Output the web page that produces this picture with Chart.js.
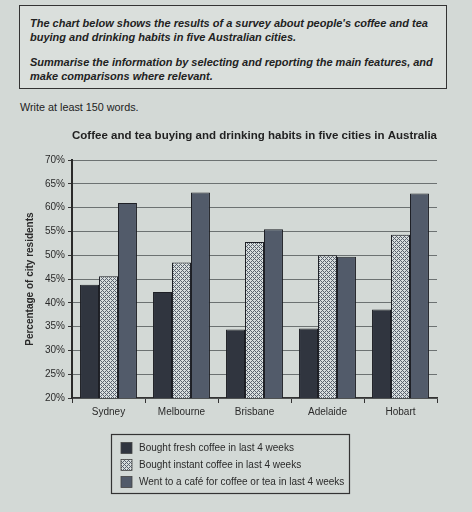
<!DOCTYPE html>
<html>
<head>
<meta charset="utf-8">
<script src="https://cdn.jsdelivr.net/npm/chart.js@4.4.1/dist/chart.umd.min.js"></script>
<style>
  html, body { margin: 0; padding: 0; }
  body {
    width: 472px; height: 512px; position: relative; overflow: hidden;
    background: #d3d9d6;
    font-family: "Liberation Sans", Arial, sans-serif;
    color: #2a2a2a;
  }
  #task {
    position: absolute; left: 19px; top: 5px; width: 426px; height: 82px;
    border: 1.5px solid #333;
    background: #dadfdc;
  }
  #task p {
    margin: 0; position: absolute; left: 10px;
    font-size: 11px; font-weight: bold; font-style: italic; line-height: 13.5px;
    color: #222; white-space: nowrap;
  }
  #words { position: absolute; left: 20px; top: 101px; font-size: 10.8px; color: #222; }
  #wrap { position: absolute; left: 0; top: 120px; width: 472px; height: 392px; }
</style>
</head>
<body>
<div id="task">
  <p style="top:11px">The chart below shows the results of a survey about people's coffee and tea<br>buying and drinking habits in five Australian cities.</p>
  <p style="top:50px">Summarise the information by selecting and reporting the main features, and<br>make comparisons where relevant.</p>
</div>
<div id="words">Write at least 150 words.</div>
<div id="wrap"><canvas id="chart" width="472" height="392"></canvas></div>
<script>
const cities = ['Sydney', 'Melbourne', 'Brisbane', 'Adelaide', 'Hobart'];
const seriesNames = [
    'Bought fresh coffee in last 4 weeks',
    'Bought instant coffee in last 4 weeks',
    'Went to a café for coffee or tea in last 4 weeks'
];
const freshCoffee = [43.8, 42.3, 34.4, 34.6, 38.6];
const instantCoffee = [45.6, 48.5, 52.8, 50.0, 54.3];
const cafeVisits = [61.0, 63.2, 55.5, 49.7, 63.0];
const yTicks = [20, 25, 30, 35, 40, 45, 50, 55, 60, 65, 70];

// cross-hatch fill for the instant coffee bars
function makeHatch() {
    const c = document.createElement('canvas');
    c.width = 4; c.height = 4;
    const g = c.getContext('2d');
    g.fillStyle = '#d8dede';
    g.fillRect(0, 0, 4, 4);
    g.fillStyle = '#5a636f';
    [[0, 0], [2, 2], [1, 1], [3, 3], [3, 1], [1, 3]].forEach(([x, y]) => g.fillRect(x, y, 1, 1));
    return g.createPattern(c, 'repeat');
}

const hatch = makeHatch();
const fills = ['#30353f', hatch, '#525b6a'];

// legend drawn as a framed box under the axis
const boxLegend = {
    id: 'boxLegend',
    afterDraw(chart) {
        const ctx = chart.ctx;
        ctx.save();
        ctx.strokeStyle = '#333';
        ctx.lineWidth = 1.2;
        ctx.strokeRect(111.5, 314.5, 238, 59);
        ctx.font = '10px "Liberation Sans", Arial, sans-serif';
        ctx.textBaseline = 'middle';
        chart.data.datasets.forEach((ds, i) => {
            const y = 328 + i * 17;
            ctx.fillStyle = ds.backgroundColor;
            ctx.fillRect(121, y - 5.5, 11, 11);
            ctx.strokeStyle = '#444';
            ctx.lineWidth = 0.8;
            ctx.strokeRect(121, y - 5.5, 11, 11);
            ctx.fillStyle = '#2a2a2a';
            ctx.fillText(ds.label, 139, y);
        });
        ctx.restore();
    }
};

new Chart(document.getElementById('chart'), {
    type: 'bar',
    data: {
        labels: cities,
        datasets: [freshCoffee, instantCoffee, cafeVisits].map((vals, i) => ({
            label: seriesNames[i],
            data: vals,
            backgroundColor: fills[i],
            borderColor: '#1e2026',
            borderWidth: 1,
            borderSkipped: 'bottom',
            categoryPercentage: 0.78,
            barPercentage: 1.0
        }))
    },
    options: {
        responsive: false,
        animation: false,
        layout: { padding: { left: 0, right: 35, top: 0, bottom: 94 } },
        plugins: {
            legend: { display: false },
            tooltip: { enabled: false },
            title: {
                display: true,
                fullSize: false,
                text: 'Coffee and tea buying and drinking habits in five cities in Australia',
                color: '#222',
                font: { family: '"Liberation Sans", Arial, sans-serif', size: 11.8, weight: 'bold' },
                padding: { top: 9, bottom: 17 }
            }
        },
        scales: {
            x: {
                afterFit: (scale) => { scale.height = 20; },
                grid: {
                    offset: true,
                    drawOnChartArea: false,
                    drawTicks: true,
                    tickLength: 5,
                    color: '#333',
                    lineWidth: 1
                },
                border: { color: '#333', width: 1.5 },
                ticks: {
                    color: '#2a2a2a',
                    padding: 3,
                    font: { family: '"Liberation Sans", Arial, sans-serif', size: 10 }
                }
            },
            y: {
                min: 20,
                max: 70,
                afterFit: (scale) => { scale.width = 72; },
                afterBuildTicks: (scale) => { scale.ticks = yTicks.map(v => ({ value: v })); },
                grid: {
                    color: '#6c7272',
                    lineWidth: 1,
                    drawTicks: true,
                    tickLength: 4,
                    tickColor: '#333'
                },
                border: { color: '#2a2a2a', width: 2 },
                ticks: {
                    color: '#2a2a2a',
                    padding: 3,
                    font: { family: '"Liberation Sans", Arial, sans-serif', size: 10 },
                    callback: (v) => v + '%'
                },
                title: {
                    display: true,
                    text: 'Percentage of city residents',
                    color: '#2a2a2a',
                    font: { family: '"Liberation Sans", Arial, sans-serif', size: 10, weight: 'bold' },
                    padding: { top: 24, bottom: 0 }
                }
            }
        }
    },
    plugins: [boxLegend]
});
</script>
</body>
</html>
